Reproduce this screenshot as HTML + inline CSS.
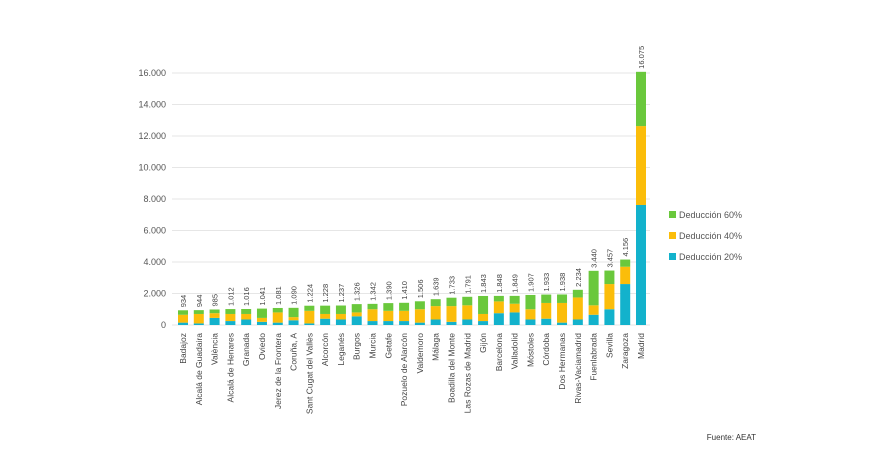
<!DOCTYPE html>
<html><head><meta charset="utf-8"><style>
body{margin:0;background:#fff;font-family:"Liberation Sans",sans-serif}
svg text{font-family:"Liberation Sans",sans-serif}
</style></head><body>
<svg width="875" height="450" xmlns="http://www.w3.org/2000/svg" id="chart">
<g id="grid"></g>
<g id="bars"></g>
<g id="labels"></g>
<g>
<g><rect x="669" y="211" width="7" height="7" fill="#6ac83c"/><text x="679" y="218" font-size="9" fill="#555">Deducción 60%</text></g>
<g><rect x="669" y="232" width="7" height="7" fill="#fbbd0a"/><text x="679" y="239" font-size="9" fill="#555">Deducción 40%</text></g>
<g><rect x="669" y="253" width="7" height="7" fill="#13b2cc"/><text x="679" y="260" font-size="9" fill="#555">Deducción 20%</text></g>
</g>
<text x="756" y="440" font-size="8" fill="#333" text-anchor="end">Fuente: AEAT</text>
</svg>
<script>
const categories=["Badajoz","Alcalá de Guadaira","València","Alcalá de Henares","Granada","Oviedo","Jerez de la Frontera","Coruña, A","Sant Cugat del Vallès","Alcorcón","Leganés","Burgos","Murcia","Getafe","Pozuelo de Alarcón","Valdemoro","Málaga","Boadilla del Monte","Las Rozas de Madrid","Gijón","Barcelona","Valladolid","Móstoles","Córdoba","Dos Hermanas","Rivas-Vaciamadrid","Fuenlabrada","Sevilla","Zaragoza","Madrid"];
const ded20=[150,100,450,250,350,200,150,300,100,400,350,550,250,250,250,150,350,200,350,250,750,800,350,400,150,350,650,1000,2600,7620];
const ded40=[500,600,300,450,350,250,650,200,800,300,350,250,750,650,650,850,850,1000,900,450,750,550,650,1000,1250,1400,600,1600,1100,5010];
const totals=[934,944,985,1012,1016,1041,1081,1090,1224,1228,1237,1326,1342,1390,1410,1506,1639,1733,1791,1843,1848,1849,1907,1933,1938,2234,3440,3457,4156,16075];
const totalLabels=["934","944","985","1.012","1.016","1.041","1.081","1.090","1.224","1.228","1.237","1.326","1.342","1.390","1.410","1.506","1.639","1.733","1.791","1.843","1.848","1.849","1.907","1.933","1.938","2.234","3.440","3.457","4.156","16.075"];
const yTicks=[0,2000,4000,6000,8000,10000,12000,14000,16000];
const yTickLabels=["0","2.000","4.000","6.000","8.000","10.000","12.000","14.000","16.000"];
const NS="http://www.w3.org/2000/svg";
const y=v=>325-v*252/16000;
const x=i=>183+i*(641-183)/29;
const bw=10;
function mk(t,a,p){const e=document.createElementNS(NS,t);for(const k in a)e.setAttribute(k,a[k]);p.appendChild(e);return e;}
const grid=document.getElementById('grid'),bars=document.getElementById('bars'),labels=document.getElementById('labels');
yTicks.forEach((v,i)=>{
 const l=mk('line',{x1:172,x2:650,y1:y(v),y2:y(v),stroke:'#e6e6e6','stroke-width':1},grid);
 
 
 const t=mk('text',{x:166,y:y(v)+3,'font-size':9,fill:'#555','text-anchor':'end'},grid);
 t.textContent=yTickLabels[i];
 
 
});
categories.forEach((c,i)=>{
 const cx=x(i),b=ded20[i],m=ded40[i],g=totals[i]-b-m;
 const r1=mk('rect',{x:cx-bw/2,y:y(b),width:bw,height:y(0)-y(b),fill:'#13b2cc'},bars);
 
 
 const r2=mk('rect',{x:cx-bw/2,y:y(b+m),width:bw,height:y(b)-y(b+m),fill:'#fbbd0a'},bars);
 
 
 const r3=mk('rect',{x:cx-bw/2,y:y(totals[i]),width:bw,height:y(b+m)-y(totals[i]),fill:'#6ac83c'},bars);
 
 
 const vt=mk('text',{x:0,y:0,'font-size':7.5,fill:'#444',transform:`translate(${cx+3},${y(totals[i])-3}) rotate(-90)`},labels);
 vt.textContent=totalLabels[i];
 
 
 const ct=mk('text',{x:0,y:0,'font-size':8.5,fill:'#444','text-anchor':'end',transform:`translate(${cx+3},333) rotate(-90)`},labels);
 ct.textContent=c;
 
 
});
</script>
</body></html>
